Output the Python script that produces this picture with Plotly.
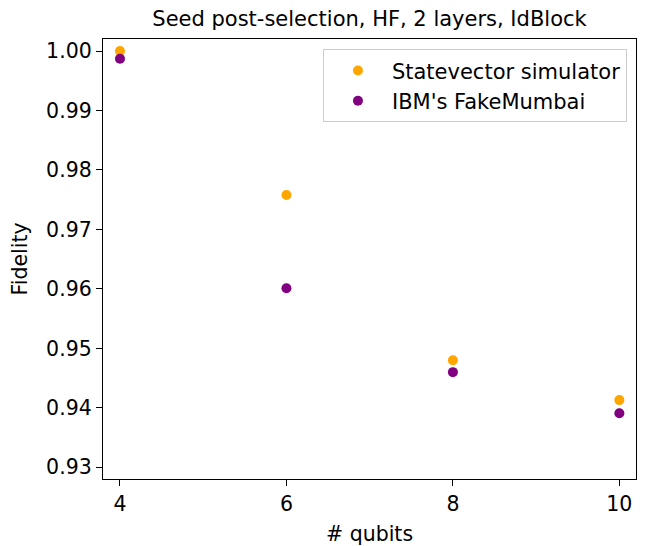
import plotly.graph_objects as go

qubits = [4, 6, 8, 10]
statevector = [1.000, 0.9758, 0.9480, 0.9413]
fake_mumbai = [0.9987, 0.9601, 0.9460, 0.9391]
y_ticks = [0.93, 0.94, 0.95, 0.96, 0.97, 0.98, 0.99, 1.00]
y_tick_labels = ["0.93", "0.94", "0.95", "0.96", "0.97", "0.98", "0.99", "1.00"]
x_ticks = [4, 6, 8, 10]

font = "DejaVu Sans"
# The page body has an 8px margin, so the figure is 8px smaller than the window.
W, H = 639, 538
fig = go.Figure()
fig.add_trace(go.Scatter(x=qubits, y=statevector, mode="markers", name="Statevector simulator",
                         marker=dict(color="orange", size=10)))
fig.add_trace(go.Scatter(x=qubits, y=fake_mumbai, mode="markers", name="IBM's FakeMumbai",
                         marker=dict(color="purple", size=10)))

axis_common = dict(showline=True, linecolor="black", linewidth=1.3, mirror=True,
                   ticks="outside", ticklen=6, tickwidth=1.3, tickcolor="black",
                   showgrid=False, zeroline=False, automargin=False,
                   tickfont=dict(family=font, size=20.5, color="black"))
fig.update_xaxes(range=[3.796, 10.2], tickvals=x_ticks,
                 title=dict(text="# qubits", font=dict(family=font, size=20.5, color="black"), standoff=13),
                 **axis_common)
fig.update_yaxes(range=[0.92803, 1.00202], tickvals=y_ticks, ticktext=y_tick_labels,
                 title=dict(text="Fidelity", font=dict(family=font, size=20.5, color="black"), standoff=12),
                 **axis_common)

fig.update_layout(
    width=W, height=H,
    margin=dict(l=95, r=11, t=31, b=67),
    plot_bgcolor="white", paper_bgcolor="white",
    title=dict(text="Seed post-selection, HF, 2 layers, IdBlock", x=0.5, xref="paper",
               y=1 - 11 / H, yanchor="middle",
               font=dict(family=font, size=21, color="black")),
    legend=dict(x=0.983, y=0.9766, xanchor="right", yanchor="top",
                bgcolor="rgba(255,255,255,0.8)", bordercolor="#cccccc", borderwidth=1,
                font=dict(family=font, size=21, color="black"),
                itemwidth=58),
    showlegend=True,
)
fig.write_html("out.html")
